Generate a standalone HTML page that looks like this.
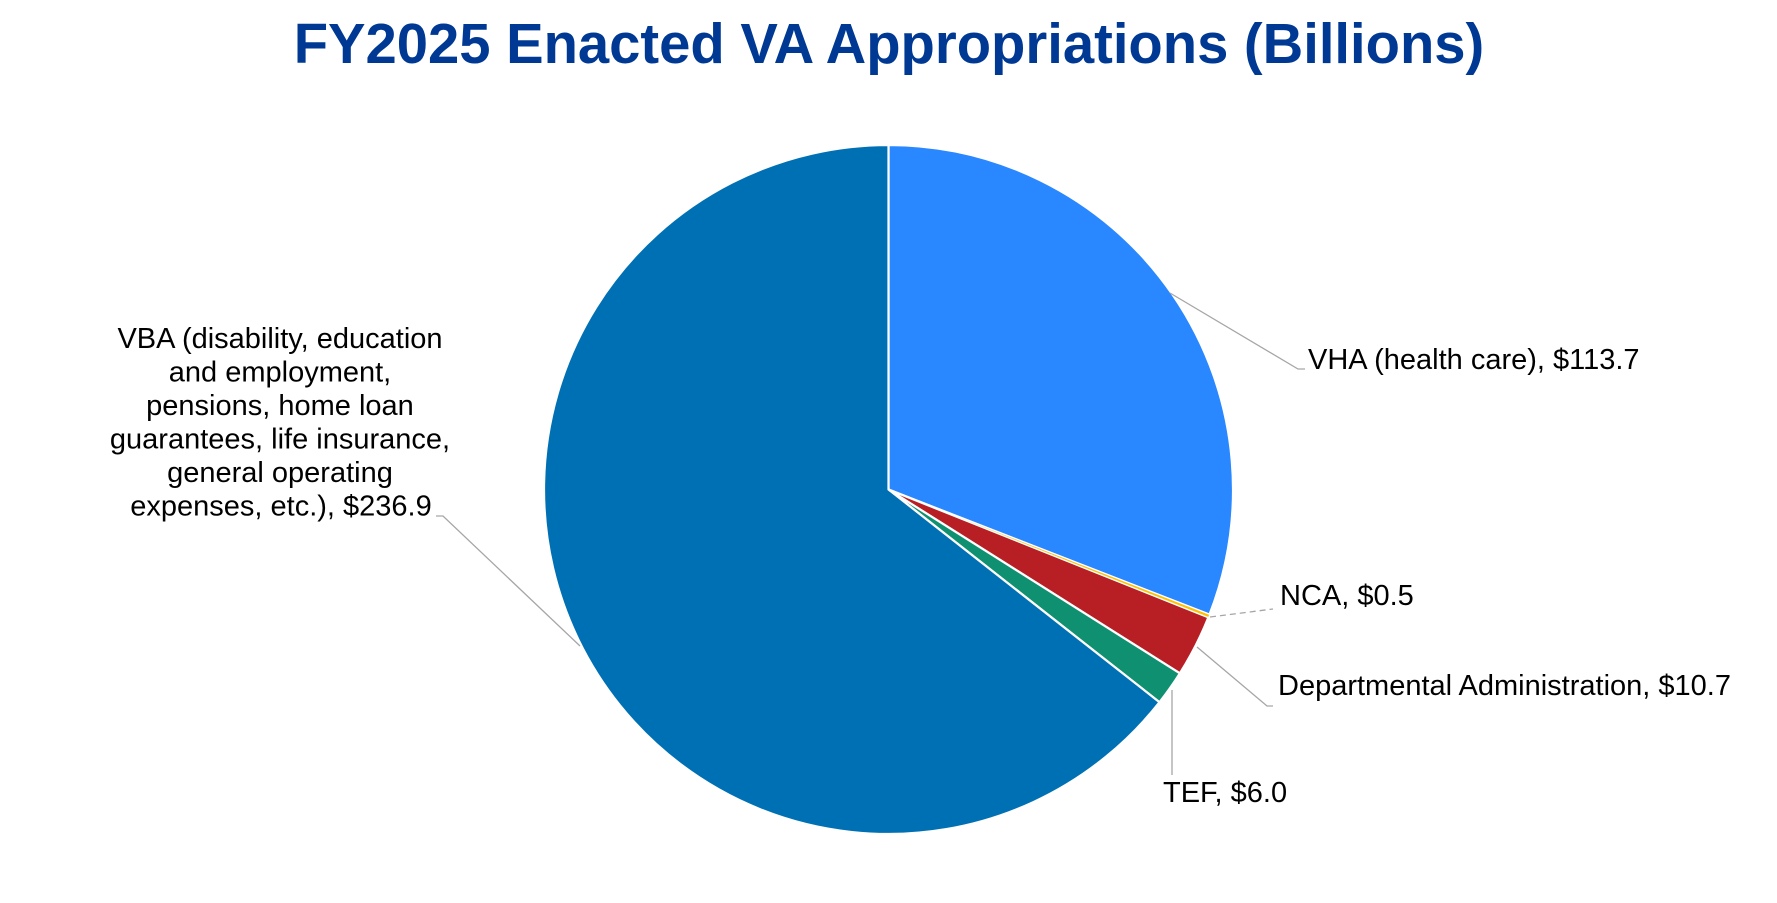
<!DOCTYPE html>
<html>
<head>
<meta charset="utf-8">
<style>
  html, body { margin: 0; padding: 0; background: #ffffff; }
  body { width: 1777px; height: 903px; overflow: hidden; }
  svg { display: block; }
  text { font-family: "Liberation Sans", Arial, sans-serif; }
</style>
</head>
<body>
<svg width="1777" height="903" viewBox="0 0 1777 903" xmlns="http://www.w3.org/2000/svg">
  <rect x="0" y="0" width="1777" height="903" fill="#ffffff"/>

  <!-- Title -->
  <text x="889" y="63" text-anchor="middle" font-size="56.2" font-weight="bold" fill="#003994">FY2025 Enacted VA Appropriations (Billions)</text>

  <!-- Pie slices -->
  <g stroke="#ffffff" stroke-width="2.2" stroke-linejoin="round">
    <!-- VHA -->
    <path d="M888.5,489.5 L888.5,145 A344.5,344.5 0 0 1 1209.48,614.58 Z" fill="#2987FF"/>
    <!-- DA -->
    <path d="M888.5,489.5 L1208.41,617.31 A344.5,344.5 0 0 1 1179.85,673.34 Z" fill="#B81F25"/>
    <!-- TEF -->
    <path d="M888.5,489.5 L1179.85,673.34 A344.5,344.5 0 0 1 1159.5,702.2 Z" fill="#0F9171"/>
    <!-- VBA -->
    <path d="M888.5,489.5 L1159.5,702.2 A344.5,344.5 0 1 1 888.5,145 Z" fill="#0070B4"/>
  </g>
  <!-- NCA (tiny slice) -->
  <path d="M888.5,489.5 L1209.48,614.58 A344.5,344.5 0 0 1 1208.41,617.31 Z" fill="#FFC000" stroke="#ffffff" stroke-width="0.6"/>

  <!-- Leader lines -->
  <g fill="none" stroke="#A6A6A6" stroke-width="1.3">
    <polyline points="1170,293 1298,369 1305,369"/>
    <line x1="1210" y1="617" x2="1273" y2="609" stroke-dasharray="6,4"/>
    <polyline points="1197,647 1267,706 1273,706"/>
    <line x1="1172" y1="690" x2="1172" y2="775"/>
    <polyline points="580,646 443,516 436,516"/>
  </g>

  <!-- Labels -->
  <g font-size="29" fill="#000000">
    <text x="1308" y="369">VHA (health care), $113.7</text>
    <text x="1280" y="605">NCA, $0.5</text>
    <text x="1278" y="695">Departmental Administration, $10.7</text>
    <text x="1163" y="802">TEF, $6.0</text>
    <g text-anchor="middle">
      <text x="280" y="348">VBA (disability, education</text>
      <text x="280" y="381.5">and employment,</text>
      <text x="280" y="415">pensions, home loan</text>
      <text x="280" y="448.5">guarantees, life insurance,</text>
      <text x="280" y="482">general operating</text>
      <text x="281" y="515.5">expenses, etc.), $236.9</text>
    </g>
  </g>
</svg>
</body>
</html>
